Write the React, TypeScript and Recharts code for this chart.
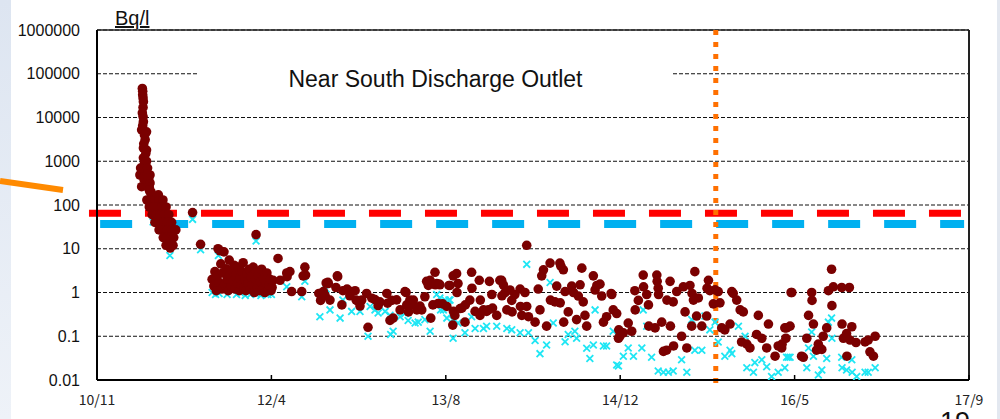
import { ScatterChart, Scatter, XAxis, YAxis, CartesianGrid, ReferenceLine } from 'recharts'

// x = days since 2010/11, y = Bq/l
const xTicks = [0, 500, 1000, 1500, 2000, 2500]
const xTickLabels = ['10/11', '12/4', '13/8', '14/12', '16/5', '17/9']
const yTicks = [0.01, 0.1, 1, 10, 100, 1000, 10000, 100000, 1000000]
const redLimit = 65
const blueLimit = 37
const markerDay = 1774

const dots: [number, number][] = [
  // spike
  [130, 46000], [131, 40000], [131, 33000], [132, 28000], [133, 23000], [132, 17000], [130, 12700], [132, 10500],
  [133, 8000], [131, 6500], [128, 5200], [142, 4700], [136, 4000], [138, 3100], [134, 2500], [133, 2000],
  [142, 1800], [140, 1500], [133, 1200], [136, 900], [123, 485], [138, 540], [125, 700], [152, 485],
  [128, 262], [135, 380], [152, 318], [150, 250], [152, 200], [176, 170], [142, 1000], [145, 700],
  [146, 500], [148, 400], [150, 300], [155, 200], [146, 260], [150, 220],
  [143, 130], [155, 130], [166, 130], [178, 130], [189, 130],
  [150, 90], [162, 90], [174, 90], [186, 90], [198, 90],
  [158, 60], [170, 60], [182, 60], [194, 60], [206, 60],
  [166, 40], [178, 40], [190, 40], [202, 40], [214, 40],
  [178, 27], [190, 27], [202, 27], [214, 27], [226, 27],
  [190, 18], [200, 18], [210, 18], [220, 18], [198, 12], [208, 12], [218, 12], [210, 10.4],
  [274, 67], [297, 12.6], [456, 21],
  // 2011-2012 cluster
  [330, 2.0], [335, 1.4], [338, 3.0], [342, 1.1], [345, 2.4], [347, 10], [350, 1.7], [353, 9], [355, 4.5],
  [358, 1.2], [360, 2.8], [364, 8.5], [366, 1.5], [370, 3.5], [373, 2.0], [376, 1.1], [379, 5.5], [381, 2.5],
  [384, 1.4], [387, 3.2], [390, 1.8], [393, 4.2], [396, 1.2], [399, 2.6], [402, 1.6], [405, 3.8], [408, 1.1],
  [410, 2.2], [413, 1.5], [416, 3.0], [419, 4.8], [421, 1.3], [424, 2.0], [427, 1.1], [430, 2.7], [433, 1.6],
  [436, 3.4], [439, 1.2], [442, 2.3], [445, 1.5], [448, 3.8], [451, 1.0], [454, 2.0], [457, 3.0], [460, 1.3],
  [463, 2.5], [466, 1.1], [469, 1.8], [472, 3.4], [475, 1.2], [478, 2.1], [481, 1.0], [484, 1.6], [487, 2.8],
  [490, 1.1], [493, 1.5], [496, 2.0], [499, 1.1], [502, 1.3], [505, 1.9], [519, 6.0], [525, 1.9], [544, 2.8],
  [545, 2.3], [553, 3.0], [558, 1.05], [587, 1.05], [591, 2.4], [596, 3.8], [598, 2.5],
  // 2012-2014
  [636, 0.95], [641, 0.66], [649, 1.05], [654, 0.85], [657, 1.65], [662, 1.7], [663, 1.6], [668, 0.67],
  [685, 1.3], [689, 2.4], [690, 2.3], [702, 0.52], [705, 1.1], [716, 1.15], [717, 1.2], [725, 0.84],
  [730, 1.05], [740, 1.1], [743, 0.67], [748, 0.64], [754, 0.49], [759, 0.67], [773, 0.95], [777, 0.16],
  [788, 0.74], [797, 0.69], [806, 0.5], [811, 0.61], [831, 0.95], [840, 0.23], [849, 0.26], [833, 0.57],
  [845, 0.66], [859, 0.68], [869, 0.4], [883, 1.05], [886, 1.0], [888, 0.52], [893, 0.36], [897, 0.67],
  [906, 0.52], [907, 0.67], [917, 0.4], [926, 0.49], [931, 0.4], [940, 0.8], [945, 1.8], [950, 1.45],
  [955, 1.9], [957, 0.26], [963, 0.52], [969, 2.9], [970, 1.5], [974, 1.6], [978, 0.56], [981, 1.55],
  [983, 1.5], [991, 0.55], [1003, 0.48], [1009, 1.45], [1012, 1.45], [1020, 0.18], [1021, 2.4], [1022, 0.37],
  [1026, 0.3], [1031, 2.7], [1035, 1.6], [1032, 1.0], [1041, 0.43], [1046, 0.44], [1055, 0.21], [1056, 0.52],
  [1069, 0.67], [1074, 2.9], [1075, 1.25], [1084, 0.37], [1096, 1.9], [1098, 0.3], [1099, 0.67], [1108, 0.4],
  [1117, 0.37], [1122, 0.4], [1125, 1.8], [1132, 0.9], [1134, 0.44], [1146, 0.3], [1155, 1.9], [1160, 1.9],
  [1165, 1.5], [1161, 0.84], [1170, 1.0], [1175, 0.4], [1184, 1.14], [1189, 0.66], [1190, 0.36], [1198, 0.9],
  [1213, 1.2], [1214, 0.48], [1218, 0.3], [1227, 1.0], [1232, 0.48], [1232, 12], [1237, 0.28], [1256, 0.21],
  [1265, 1.2], [1270, 0.4], [1275, 2.4], [1280, 3.3], [1289, 0.17], [1299, 4.7], [1300, 0.67], [1313, 0.61],
  [1318, 1.4], [1327, 4.7], [1328, 0.58], [1330, 4.0], [1337, 3.3], [1342, 1.05], [1338, 0.21], [1351, 0.36],
  [1361, 1.4], [1366, 1.0], [1375, 0.24], [1380, 0.83], [1385, 1.5], [1390, 3.6], [1394, 0.61], [1399, 0.3],
  [1404, 0.17], [1423, 2.4], [1428, 1.14], [1433, 1.45], [1442, 1.55], [1447, 0.83], [1452, 0.21], [1461, 0.28],
  [1474, 0.95], [1476, 0.9], [1480, 0.4], [1495, 0.09], [1499, 0.1],
  // 2014-2016
  [1490, 0.33], [1496, 0.14], [1509, 0.12], [1523, 0.2], [1533, 0.13], [1542, 1.1], [1543, 0.4], [1552, 0.66],
  [1566, 2.5], [1567, 1.35], [1576, 0.9], [1581, 0.52], [1582, 0.17], [1600, 0.155], [1605, 2.5], [1606, 1.8],
  [1609, 1.25], [1610, 0.9], [1619, 0.21], [1624, 0.045], [1633, 0.048], [1634, 0.67], [1643, 1.8], [1644, 0.17],
  [1652, 0.61], [1653, 0.06], [1662, 1.05], [1676, 0.1], [1681, 1.35], [1686, 0.36], [1691, 0.054], [1700, 1.45],
  [1705, 0.17], [1706, 0.95], [1710, 0.67], [1714, 3.0], [1719, 0.29], [1724, 0.75], [1734, 0.17], [1748, 0.29],
  [1749, 1.25], [1753, 1.9], [1757, 1.1], [1767, 0.55], [1772, 1.15], [1781, 1.05], [1786, 0.58], [1791, 0.155],
  [1800, 0.14], [1815, 0.19], [1820, 1.05], [1824, 0.95], [1834, 0.67], [1844, 0.4], [1848, 0.074], [1853, 0.36],
  [1863, 0.066], [1872, 0.054], [1891, 0.11], [1896, 0.3], [1906, 0.09], [1920, 0.054], [1925, 0.19], [1944, 0.035],
  [1953, 0.06], [1963, 0.054], [1977, 0.155], [1992, 1.0],
  // 2016-2017
  [2106, 3.4], [2111, 1.35], [2097, 1.1], [2135, 1.3], [2157, 1.3], [1990, 1.0], [2049, 1.0], [2050, 0.66],
  [2107, 0.5], [2040, 0.3], [2054, 0.19], [1987, 0.17], [1972, 0.155], [2136, 0.19], [2092, 0.155], [2164, 0.165],
  [2149, 0.115], [2140, 0.09], [2082, 0.1], [2035, 0.09], [1975, 0.09], [2159, 0.082], [2176, 0.072], [2202, 0.074],
  [2211, 0.082], [2231, 0.1], [2068, 0.066], [2063, 0.048], [2078, 0.05], [2020, 0.035], [2025, 0.033],
  [2150, 0.035], [2216, 0.044], [2226, 0.035], [1964, 0.066],
]

const crosses: [number, number][] = [
  [161, 41], [209, 7], [274, 47], [297, 9.5], [456, 15], [348, 7],
  [330, 1.0], [340, 0.9], [350, 0.95], [360, 1.2], [373, 0.9], [390, 1.1], [400, 0.9], [410, 1.0], [425, 0.85],
  [440, 0.9], [455, 0.95], [470, 0.85], [480, 1.0], [490, 0.9], [500, 0.9], [544, 1.35], [587, 0.8], [596, 1.8],
  [639, 0.28], [657, 1.2], [668, 0.4], [697, 0.26], [705, 0.67], [730, 0.37], [754, 0.37], [777, 0.1], [783, 0.48],
  [797, 0.4], [806, 0.34], [826, 0.37], [840, 0.3], [842, 0.11], [849, 0.13], [869, 0.28], [883, 0.33], [892, 0.23],
  [912, 0.2], [921, 0.21], [940, 0.24], [955, 0.13], [974, 0.9], [983, 0.75], [985, 0.4], [993, 0.4], [998, 0.67],
  [1003, 0.26], [1009, 0.67], [1012, 0.67], [1020, 0.24], [1021, 0.09], [1035, 0.2], [1055, 0.12], [1074, 0.28],
  [1084, 0.15], [1108, 0.15], [1117, 0.17], [1146, 0.17], [1175, 0.15], [1189, 0.14], [1213, 0.12], [1232, 4.4],
  [1237, 0.12], [1256, 0.08], [1270, 0.04], [1289, 0.063], [1299, 1.7], [1308, 0.2], [1342, 0.075], [1351, 0.11],
  [1370, 0.13], [1375, 0.09], [1404, 0.053], [1413, 0.031], [1423, 0.063], [1428, 0.4], [1452, 0.06], [1461, 0.06],
  [1480, 0.13], [1490, 0.022],
  [1495, 0.021], [1509, 0.035], [1523, 0.054], [1538, 0.035], [1566, 0.4], [1562, 0.054], [1576, 0.17], [1590, 0.033],
  [1609, 0.016], [1624, 0.015], [1638, 0.015], [1652, 0.016], [1676, 0.029], [1691, 0.015], [1714, 0.048], [1734, 0.048],
  [1705, 0.24], [1743, 0.29], [1757, 0.14], [1772, 0.21], [1781, 0.074], [1800, 0.035], [1815, 0.048], [1839, 0.17],
  [1863, 0.019], [1882, 0.015], [1886, 0.025], [1906, 0.029], [1920, 0.02], [1934, 0.012], [1953, 0.015], [1972, 0.019],
  [1982, 0.033], [1858, 0.1], [1820, 0.04],
  [2106, 0.26], [2097, 0.21], [2049, 0.125], [2107, 0.09], [2040, 0.054], [2054, 0.035], [1977, 0.033], [1987, 0.033],
  [2092, 0.031], [2135, 0.033], [2164, 0.029], [2035, 0.019], [2078, 0.017], [2068, 0.013], [2136, 0.019],
  [2149, 0.017], [2165, 0.015], [2178, 0.012], [2202, 0.015], [2211, 0.015], [2231, 0.019],
]

const dotData = dots.map(([day, value]) => ({ day, value }))
const crossData = crosses.map(([day, value]) => ({ day, value }))

const Dot = (p: any) => <circle cx={p.cx} cy={p.cy} r={4.8} fill="#7a0000" />

const Cross = (p: any) => {
  const s = 3.4
  return (
    <path
      d={`M${p.cx - s},${p.cy - s}L${p.cx + s},${p.cy + s}M${p.cx - s},${p.cy + s}L${p.cx + s},${p.cy - s}`}
      stroke="#1fe6f4"
      strokeWidth={1.8}
      fill="none"
    />
  )
}

const XTick = (p: any) => {
  const i = xTicks.indexOf(p.payload.value)
  return (
    <g>
      <line x1={p.x} x2={p.x} y1={380} y2={375} stroke="#000" strokeWidth={1.5} />
      <text x={p.x} y={405} textAnchor="middle" fontSize={14} fontFamily="Noto Sans CJK JP" fill="#222">
        {xTickLabels[i]}
      </text>
    </g>
  )
}

const YTick = (p: any) => (
  <text x={80} y={p.y} dy={5.5} textAnchor="end" fontSize={16} fontFamily="Liberation Sans" fill="#111">
    {String(p.payload.value)}
  </text>
)

export default function App() {
  return (
    <div style={{ position: 'fixed', left: 0, top: 0, width: 1000, height: 419, background: '#fff', overflow: 'hidden' }}>
      <div style={{ position: 'absolute', left: 0, top: 0, width: 11, height: 419, background: 'linear-gradient(#dde5f1, #eef2f8)' }} />
      <div style={{ position: 'absolute', left: 997, top: 0, width: 3, height: 419, background: '#e3e8f0' }} />
      <ScatterChart width={1000} height={419} margin={{ top: 30, right: 31, bottom: 9, left: 17 }}>
        <CartesianGrid vertical={false} stroke="#111" strokeDasharray="4 2" />
        <XAxis
          type="number"
          dataKey="day"
          domain={[0, 2500]}
          ticks={xTicks}
          interval={0}
          height={30}
          allowDataOverflow
          axisLine={{ stroke: '#000', strokeWidth: 2 }}
          tickLine={false}
          tick={XTick}
        />
        <YAxis
          type="number"
          dataKey="value"
          scale="log"
          domain={[0.01, 1000000]}
          ticks={yTicks}
          interval={0}
          width={80}
          allowDataOverflow
          axisLine={{ stroke: '#000', strokeWidth: 2 }}
          tickLine={false}
          tick={YTick}
        />
        <Scatter data={crossData} shape={Cross} isAnimationActive={false} />
        <Scatter data={dotData} shape={Dot} isAnimationActive={false} />
        <ReferenceLine y={1000000} stroke="#222" strokeWidth={1.5} />
        <ReferenceLine x={2500} stroke="#222" strokeWidth={2} />
        <ReferenceLine
          segment={[{ x: -23, y: redLimit }, { x: 2500, y: redLimit }]}
          ifOverflow="visible"
          stroke="#ff0000"
          strokeWidth={7}
          strokeDasharray="32 24"
        />
        <ReferenceLine
          segment={[{ x: 9, y: blueLimit }, { x: 2486, y: blueLimit }]}
          ifOverflow="visible"
          stroke="#00b0f0"
          strokeWidth={8}
          strokeDasharray="32 24"
        />
        <ReferenceLine
          segment={[{ x: markerDay, y: 1000000 }, { x: markerDay, y: 0.0085 }]}
          ifOverflow="visible"
          stroke="#ff7000"
          strokeWidth={5}
          strokeDasharray="5 7"
        />
      </ScatterChart>
      <div
        style={{
          position: 'absolute', left: 198, top: 62, width: 475, height: 34, background: '#fff',
          display: 'flex', alignItems: 'center', justifyContent: 'center',
          fontFamily: 'Liberation Sans', fontSize: 23, color: '#111',
        }}
      >
        Near South Discharge Outlet
      </div>
      <div style={{ position: 'absolute', left: 115, top: 7, fontFamily: 'Liberation Sans', fontSize: 20, color: '#111', textDecoration: 'underline' }}>
        Bq/l
      </div>
      <svg style={{ position: 'absolute', left: 0, top: 0 }} width={70} height={200}>
        <line x1={0} y1={181} x2={63} y2={190} stroke="#ff8a00" strokeWidth={6} />
      </svg>
      <div style={{ position: 'absolute', left: 940, top: 407, fontFamily: 'Liberation Sans', fontSize: 27, color: '#111' }}>19</div>
    </div>
  )
}
